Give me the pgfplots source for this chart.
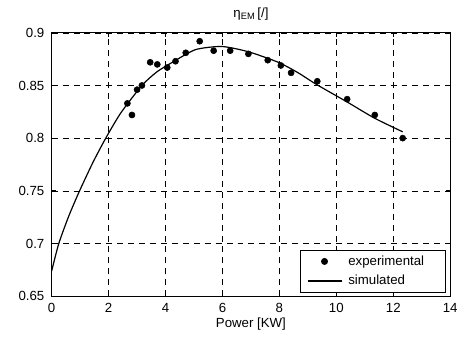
\documentclass[border=0pt]{standalone}
\usepackage{pgfplots}
\pgfplotsset{compat=1.18}
\usepackage{fontspec}
\setmainfont{Liberation Sans}
\begin{document}
\begin{tikzpicture}
\begin{axis}[
  name=ax,
  scale only axis,
  width=300.75pt, height=198.75pt,
  xmin=0, xmax=14, ymin=0.65, ymax=0.9,
  xtick={0,2,4,6,8,10,12,14},
  ytick={0.65,0.7,0.75,0.8,0.85,0.9},
  /pgf/number format/assume math mode=true,
  yticklabel style={/pgf/number format/fixed,/pgf/number format/precision=2,xshift=-2pt},
  xticklabel style={yshift=-2pt},
  grid=major,
  grid style={black, line width=0.4pt, dash pattern=on 4.5pt off 3.75pt},
  axis line style={line width=0.8pt},
  tick style={black, line width=0.5pt},
  major tick length=3pt,
  tick align=inside,
  title={η\textsubscript{EM}\hspace{1.5pt}[/]},
  xlabel={Power [KW]},
  xlabel style={yshift=3pt},
  legend cell align=left,
  legend style={at={(0.988,0.014)}, anchor=south east, draw=black, line width=0.6pt,
    inner xsep=5pt, inner ysep=2pt, row sep=2pt,
    nodes={text width=63pt, align=left, inner xsep=5pt}},
  legend image code/.code={\draw[mark repeat=2,mark phase=2,#1] plot coordinates {(0pt,0pt) (12.5pt,0pt) (25pt,0pt)};},
]
\addplot[only marks, mark=*, mark size=2.3pt, black] coordinates {
(2.66,0.833) (2.82,0.822) (3.00,0.846) (3.17,0.850) (3.46,0.872)
(3.71,0.870) (4.06,0.867) (4.35,0.873) (4.71,0.881) (5.20,0.892)
(5.69,0.883) (6.27,0.883) (6.91,0.880) (7.59,0.874) (8.05,0.869)
(8.41,0.862) (9.33,0.854) (10.38,0.837) (11.35,0.822) (12.33,0.800)
};
\addlegendentry{experimental}
\addplot[black, line width=0.9pt, smooth, tension=0.4] coordinates {
(0,0.674) (0.25,0.700) (0.6,0.726) (0.98,0.750) (1.45,0.777) (1.9,0.800)
(2.43,0.824) (3.17,0.850) (3.7,0.863) (4.24,0.872) (5.05,0.884) (5.98,0.887)
(6.91,0.882) (7.96,0.872) (8.66,0.862) (9.3,0.851) (10.4,0.834) (11.34,0.819)
(12.33,0.806)
};
\addlegendentry{simulated}
\end{axis}
\path (ax.south west) ++(-39pt,-31.5pt) rectangle ++(346.5pt,255pt);
\end{tikzpicture}
\end{document}
